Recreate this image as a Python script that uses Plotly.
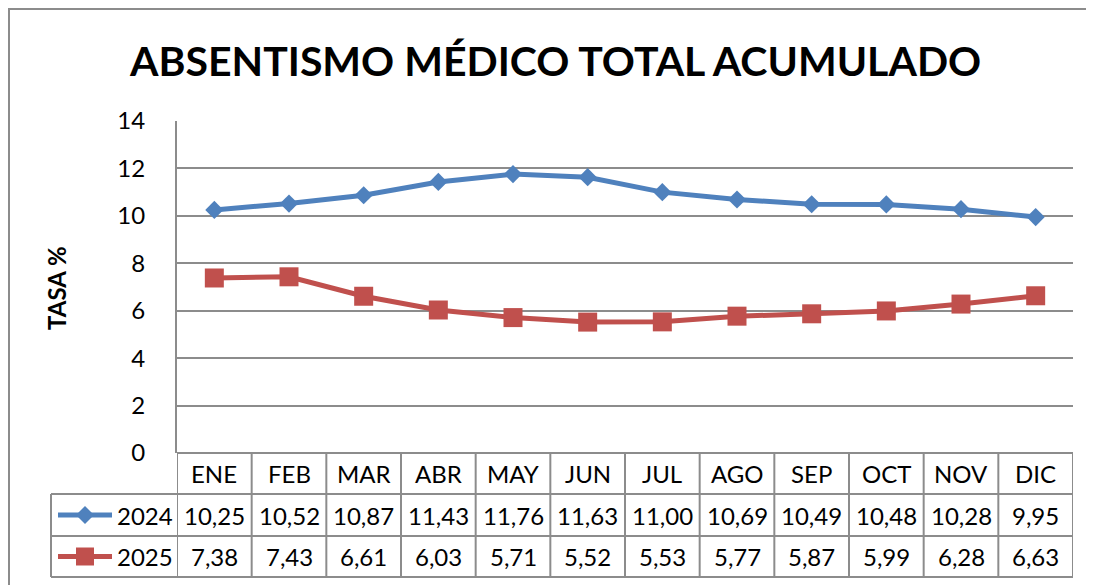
import plotly.graph_objects as go

months = ["ENE", "FEB", "MAR", "ABR", "MAY", "JUN", "JUL", "AGO", "SEP", "OCT", "NOV", "DIC"]
series_names = ["2024", "2025"]
values_2024 = [10.25, 10.52, 10.87, 11.43, 11.76, 11.63, 11.00, 10.69, 10.49, 10.48, 10.28, 9.95]
values_2025 = [7.38, 7.43, 6.61, 6.03, 5.71, 5.52, 5.53, 5.77, 5.87, 5.99, 6.28, 6.63]
y_ticks = [0, 2, 4, 6, 8, 10, 12, 14]

W, H = 1094, 585
OFF = 8  # page body margin
BLUE = "#4F81BD"
RED = "#C0504D"
GRID = "#8C8C8C"
FONT = "Lato"


def px(x):
    return (x - OFF) / W


def py(y):
    return 1 - (y - OFF) / H


plot_l, plot_r, plot_t, plot_b = 177, 1073, 121, 453
row_lines = [453, 494, 536, 577]
label_l = 51

fig = go.Figure()
styles = [
    dict(color=BLUE, symbol="diamond", size=14),
    dict(color=RED, symbol="square", size=19),
]
all_vals = [values_2024, values_2025]
for name, vals, st in zip(series_names, all_vals, styles):
    fig.add_trace(go.Scatter(
        x=months, y=vals, name=name, mode="lines+markers",
        line=dict(color=st["color"], width=5),
        marker=dict(symbol=st["symbol"], size=st["size"], color=st["color"],
                    line=dict(width=0)),
        showlegend=False, cliponaxis=False,
    ))

shapes = []
# outer chart border (top/left visible)
shapes.append(dict(type="rect", xref="paper", yref="paper",
                   x0=px(9), x1=px(1130), y0=py(9), y1=py(640),
                   line=dict(color=GRID, width=2), layer="below"))
# table horizontal lines
for i, yl in enumerate(row_lines):
    x0 = plot_l if i == 0 else label_l
    shapes.append(dict(type="line", xref="paper", yref="paper",
                       x0=px(x0), x1=px(plot_r), y0=py(yl), y1=py(yl),
                       line=dict(color=GRID, width=2)))
# table vertical lines (category boundaries)
for i in range(len(months) + 1):
    shapes.append(dict(type="line", xref="x", yref="paper",
                       x0=i - 0.5, x1=i - 0.5, y0=py(row_lines[0]), y1=py(row_lines[-1]),
                       line=dict(color=GRID, width=2)))
# label column left edge
shapes.append(dict(type="line", xref="paper", yref="paper",
                   x0=px(label_l), x1=px(label_l), y0=py(row_lines[1]), y1=py(row_lines[-1]),
                   line=dict(color=GRID, width=2)))

TXT = dict(family=FONT, size=24, color="#000")
annotations = []
row_centers = [(row_lines[i] + row_lines[i + 1]) / 2 for i in range(3)]
for i, m in enumerate(months):
    annotations.append(dict(x=m, xref="x", y=py(row_centers[0]), yref="paper",
                            xanchor="center", yanchor="middle",
                            text=m, showarrow=False, font=TXT))
for r, vals in enumerate(all_vals):
    for m, v in zip(months, vals):
        annotations.append(dict(x=m, xref="x", y=py(row_centers[r + 1]), yref="paper",
                                xanchor="center", yanchor="middle",
                                text=f"{v:.2f}".replace(".", ","), showarrow=False,
                                font=TXT))
    # legend key inside table
    yc = row_centers[r + 1]
    st = styles[r]
    shapes.append(dict(type="line", xref="paper", yref="paper",
                       x0=px(58), x1=px(112), y0=py(yc), y1=py(yc),
                       line=dict(color=st["color"], width=5)))
    if st["symbol"] == "diamond":
        d = 9
        path = (f"M {px(85)} {py(yc - d)} L {px(85 + d)} {py(yc)} "
                f"L {px(85)} {py(yc + d)} L {px(85 - d)} {py(yc)} Z")
        shapes.append(dict(type="path", xref="paper", yref="paper", path=path,
                           fillcolor=st["color"], line=dict(width=0)))
    else:
        s = 9
        shapes.append(dict(type="rect", xref="paper", yref="paper",
                           x0=px(85 - s), x1=px(85 + s), y0=py(yc - s), y1=py(yc + s),
                           fillcolor=st["color"], line=dict(width=0)))
    annotations.append(dict(x=px(115), xref="paper", y=py(yc), yref="paper",
                            xanchor="left", yanchor="middle",
                            text=series_names[r], showarrow=False, font=TXT))

# y-axis title
annotations.append(dict(x=px(56), xref="paper", y=py(288), yref="paper",
                        xanchor="center", yanchor="middle",
                        text="<b>TASA %</b>", textangle=-90, showarrow=False,
                        font=dict(family=FONT, size=24, color="#000")))
# chart title
annotations.append(dict(x=px(555), xref="paper", y=py(60), yref="paper",
                        xanchor="center", yanchor="middle",
                        text="<b>ABSENTISMO MÉDICO TOTAL ACUMULADO</b>", showarrow=False,
                        font=dict(family=FONT, size=41, color="#000")))

fig.update_layout(
    width=W, height=H,
    margin=dict(l=0, r=0, t=0, b=0, pad=0, autoexpand=False),
    paper_bgcolor="white", plot_bgcolor="white",
    shapes=shapes, annotations=annotations, showlegend=False,
    xaxis=dict(domain=[px(plot_l), px(plot_r)], type="category",
               categoryorder="array", categoryarray=months,
               range=[-0.5, len(months) - 0.5], automargin=False,
               showgrid=False, showticklabels=False, ticks="",
               zeroline=False, showline=False, fixedrange=True),
    yaxis=dict(domain=[py(plot_b), py(plot_t)], range=[0, 14], automargin=False,
               tickvals=y_ticks, ticktext=[str(t) for t in y_ticks],
               showgrid=True, gridcolor=GRID, gridwidth=2,
               showline=True, linecolor=GRID, linewidth=2,
               zeroline=False, ticks="", ticklabelstandoff=25,
               tickfont=dict(family=FONT, size=24, color="#000"),
               fixedrange=True),
    font=dict(family=FONT),
)

fig.write_html("out.html")
